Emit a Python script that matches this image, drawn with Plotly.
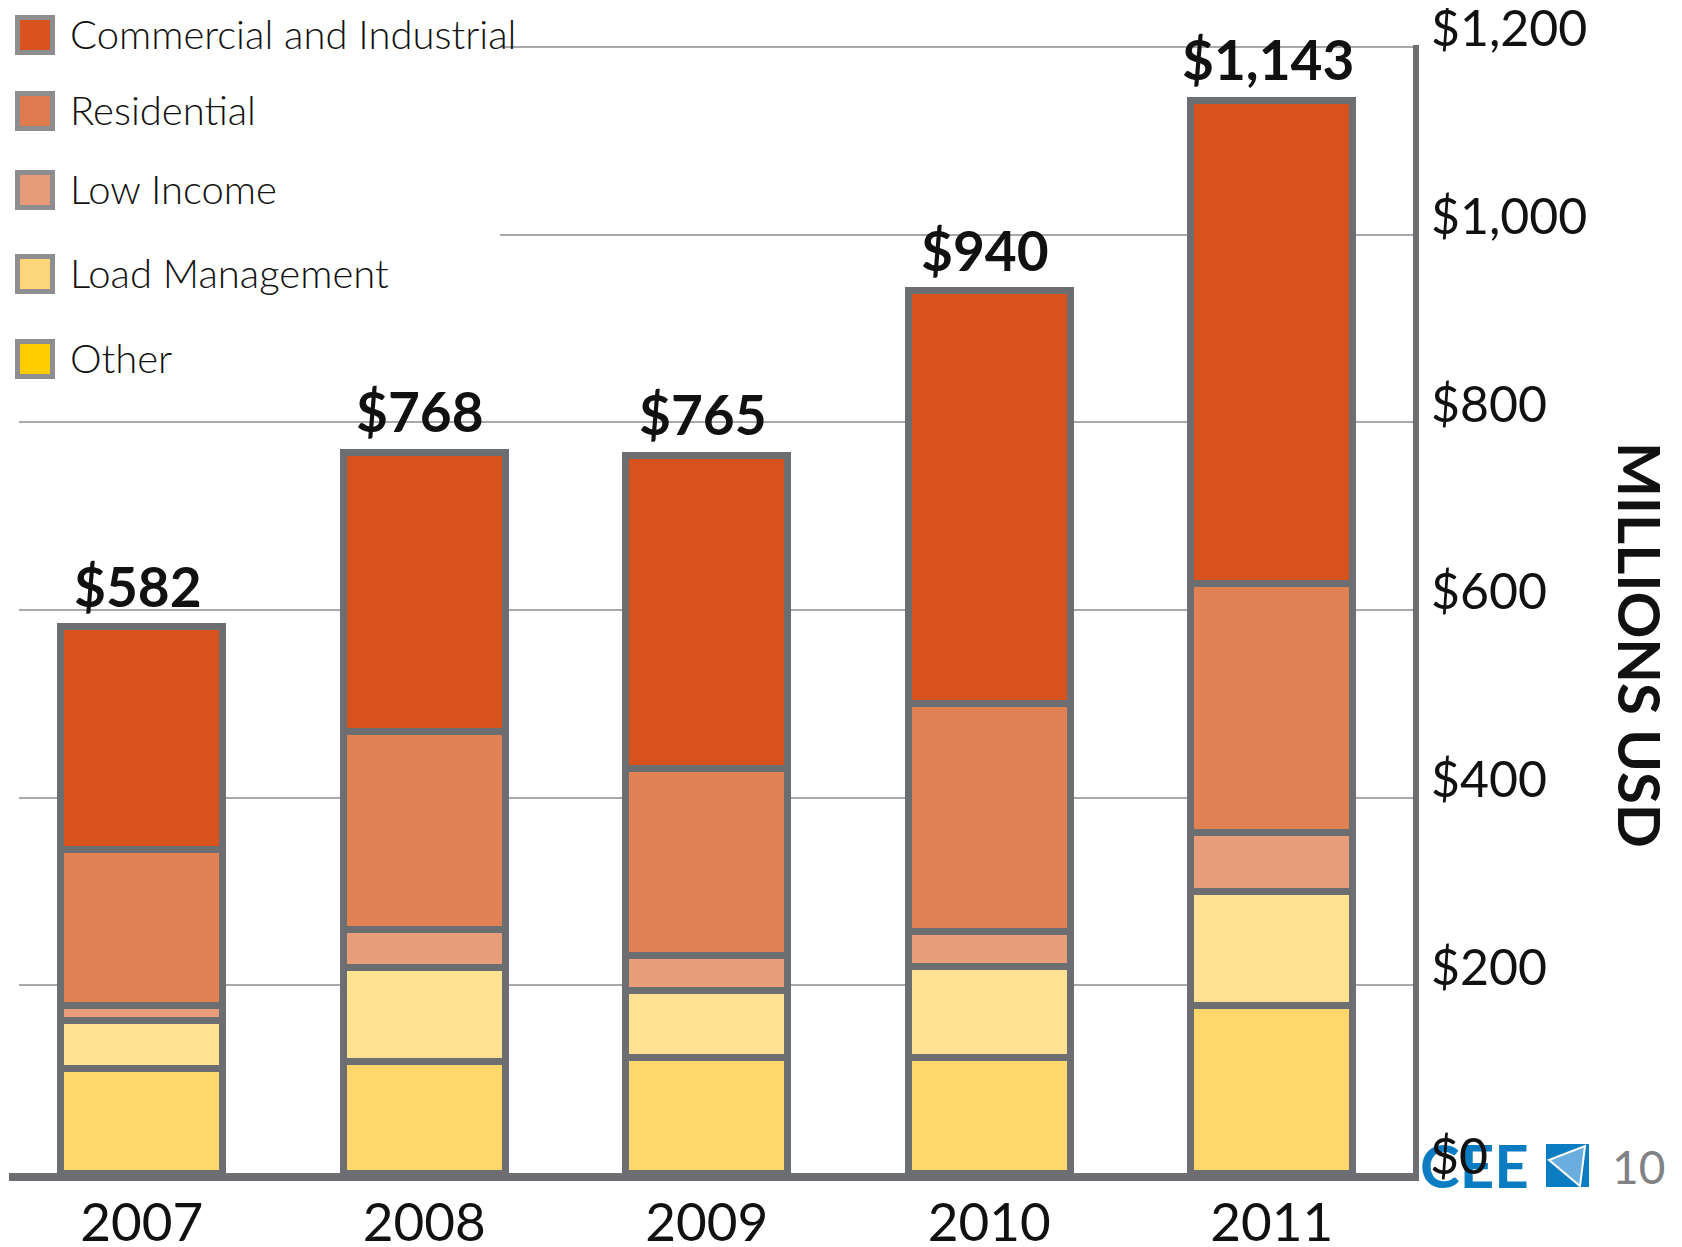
import plotly.graph_objects as go

anos = ["2007", "2008", "2009", "2010", "2011"]
other = [111, 119, 123, 123, 178]
load_mgmt = [51, 100, 72, 97, 122]
low_income = [17, 40, 37, 37, 63]
residential = [166, 212, 199, 243, 265]
comercial = [237, 297, 334, 440, 515]
ticks_y = [0, 200, 400, 600, 800, 1000, 1200]

nomes = ["Other", "Load Management", "Low Income", "Residential", "Commercial and Industrial"]
cores_barra = ["#fed86b", "#fee191", "#e89c79", "#e08253", "#d8521e"]
cores_legenda = ["#ffcc00", "#fed67a", "#e89b78", "#e07b4f", "#d9531e"]
series = [other, load_mgmt, low_income, residential, comercial]
totais = [sum(v) for v in zip(*series)]

CINZA = "#6d6e71"
W, H = 1682, 1247
OFF = 8  # margem padrão do <body>
L, R, T, B = 9 - OFF, 1413 - OFF, 45 - OFF, 1173 - OFF


def px(x):
    return (x - OFF - L) / (R - L)


def py(y):
    return (B - (y - OFF)) / (B - T)


def dolar(v):
    return "&#36;" + f"{v:,}"


fig = go.Figure()
for nome, vals, cor in zip(nomes, series, cores_barra):
    fig.add_trace(go.Bar(x=anos, y=vals, name=nome, width=0.575,
                         marker=dict(color=cor, line=dict(color=CINZA, width=7)),
                         showlegend=False))

# rótulos de total (x pelo índice da categoria)
for i, tot in enumerate(totais):
    fig.add_annotation(x=i, y=tot, text=dolar(tot), showarrow=False,
                       xanchor="center", yanchor="bottom", yshift=6, xshift=-4,
                       font=dict(family="Lato", size=55, color="#111111", weight="bold"))

shapes = []
# fundo branco da legenda (cobre as linhas de grade)
shapes.append(dict(type="rect", xref="paper", yref="paper", x0=px(0), x1=px(500),
                   y0=py(0), y1=py(400), fillcolor="white", line=dict(width=0), layer="above"))
shapes.append(dict(type="rect", xref="paper", yref="paper", x0=px(0), x1=px(19),
                   y0=py(400), y1=py(1164), fillcolor="white", line=dict(width=0), layer="above"))

# legenda manual
linhas_y = [35, 111, 190, 274, 359]
ordem = list(range(len(nomes)))[::-1]
for yy, i in zip(linhas_y, ordem):
    shapes.append(dict(type="rect", xref="paper", yref="paper",
                       x0=px(17.5), x1=px(52.5), y0=py(yy - 17.5), y1=py(yy + 17.5),
                       fillcolor=cores_legenda[i], line=dict(color="#8e8e90", width=5), layer="above"))
    fig.add_annotation(xref="paper", yref="paper", x=px(68), y=py(yy - 1), text=nomes[i],
                       showarrow=False, xanchor="left", yanchor="middle",
                       font=dict(family="Lato", size=40, color="#111111", weight=300))

# logo CEE
shapes.append(dict(type="rect", xref="paper", yref="paper", x0=px(1546), x1=px(1589),
                   y0=py(1187), y1=py(1144), fillcolor="#0a7dc2", line=dict(width=0), layer="above"))
shapes.append(dict(type="path", xref="paper", yref="paper",
                   path=f"M {px(1549)},{py(1160)} L {px(1585)},{py(1146)} L {px(1580)},{py(1186)} Z",
                   fillcolor="#6aaee0", line=dict(color="white", width=2), layer="above"))
fig.add_annotation(xref="paper", yref="paper", x=px(1474), y=py(1165), text="CEE", showarrow=False,
                   xanchor="center", yanchor="middle",
                   font=dict(family="Lato", size=60, color="#0a7dc2", weight="bold"))
fig.add_annotation(xref="paper", yref="paper", x=px(1638), y=py(1166), text="10", showarrow=False,
                   xanchor="center", yanchor="middle",
                   font=dict(family="Lato", size=46, color="#808285"))

# "$0" por cima do logo, como no original
fig.add_annotation(xref="paper", yref="y", x=px(1428), y=ticks_y[0], text=dolar(ticks_y[0]),
                   showarrow=False, xanchor="left", yanchor="middle", yshift=18,
                   font=dict(family="Lato", size=50, color="#111111"))

# título do eixo
fig.add_annotation(xref="paper", yref="paper", x=px(1641), y=py(645), text="MILLIONS USD",
                   showarrow=False, textangle=90, xanchor="center", yanchor="middle",
                   font=dict(family="Lato", size=58, color="#111111", weight="bold"))

fig.update_layout(
    width=W, height=H, barmode="stack",
    plot_bgcolor="white", paper_bgcolor="white",
    margin=dict(l=L, r=W - R, t=T, b=H - B, autoexpand=False),
    shapes=shapes,
)
fig.update_xaxes(type="category", range=[-0.47, 4.5], showline=True, linewidth=8, linecolor=CINZA,
                 ticks="", ticklen=0, ticklabelstandoff=-4, showgrid=False, automargin=False,
                 tickfont=dict(family="Lato", size=53, color="#111111"))
fig.update_yaxes(side="right", range=[0, 1202], tickvals=ticks_y,
                 ticktext=[""] + [dolar(v) for v in ticks_y[1:]],
                 showline=True, linewidth=6, linecolor=CINZA, automargin=False,
                 showgrid=True, gridcolor="#a9a9ab", gridwidth=2, zeroline=False,
                 ticks="", ticklen=0, ticklabelstandoff=2, ticklabelshift=-18,
                 ticklabeloverflow="allow",
                 tickfont=dict(family="Lato", size=50, color="#111111"))

fig.write_html("out.html")
